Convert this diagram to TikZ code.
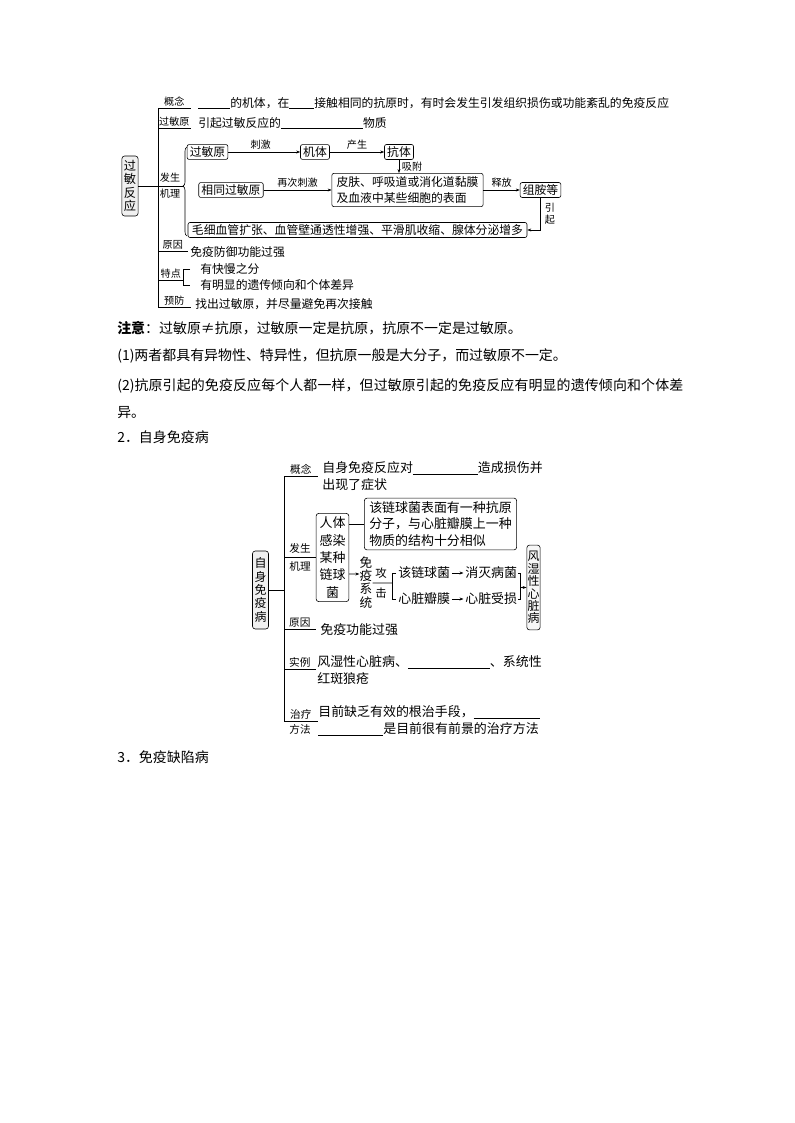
\documentclass[tikz,border=0pt]{standalone}
\usepackage{fontspec}
\setmainfont{Noto Sans CJK SC}
\usetikzlibrary{arrows.meta,calc,decorations.pathreplacing}
\XeTeXlinebreaklocale "zh"
\XeTeXlinebreakskip=0pt plus 1pt
\newlength\pxu
\setlength\pxu{0.26458mm}
\newcommand{\blank}[1]{\rule[-0.15em]{#1\pxu}{0.4pt}}

\begin{document}
\begin{tikzpicture}[x=1\pxu, y=-1\pxu, line width=0.45pt,
  txt/.style={inner sep=0pt, anchor=west, font=\fontsize{8.9}{10}\selectfont},
  txtb/.style={inner sep=0pt, anchor=west, font=\fontsize{9.75}{11}\selectfont},
  note/.style={inner sep=0pt, anchor=west, font=\fontsize{10.5}{12}\selectfont},
  lbl/.style={inner sep=0pt, font=\fontsize{7.6}{9}\selectfont},
  lblb/.style={inner sep=0pt, font=\fontsize{8}{9}\selectfont},
  brn/.style={lbl, anchor=south west, inner ysep=1pt},
  brnb/.style={lblb, anchor=south west, inner ysep=1pt},
  box/.style={draw, rounded corners=1.5pt, inner xsep=2pt, inner ysep=1.5pt, font=\fontsize{8.9}{10}\selectfont},
  boxb/.style={draw, rounded corners=2pt, inner xsep=2.6pt, inner ysep=2.5pt, font=\fontsize{9.75}{13.1}\selectfont},
  head/.style={draw, fill=gray!12, rounded corners=2pt, align=center, inner xsep=1.5pt, inner ysep=3pt},
  arr/.style={-{Stealth[length=3pt,width=2.2pt]}}]
\path[use as bounding box, fill=white] (0,0) rectangle (794,1123);

% 过敏反应
\node[head, font=\fontsize{9.2}{10.2}\selectfont] (gmfy) at (130,186) {过\\敏\\反\\应};
\coordinate (sa) at (158,108);
\coordinate (sb) at (158,307);
\draw (sa) -- (sb);
\node[brn, minimum width=32\pxu] (gnl) at (sa) {概念};
\draw (gnl.south west) -- (gnl.south east);
\node[txt] at (198,103) {\blank{32}的机体，在\blank{25}接触相同的抗原时，有时会发生引发组织损伤或功能紊乱的免疫反应};
\node[brn, minimum width=32\pxu] (gmyl) at (158,128) {过敏原};
\draw (gmyl.south west) -- (gmyl.south east);
\node[txt] at (198,123) {引起过敏反应的\blank{82}物质};

\coordinate (bt) at (184,186);
\draw (gmfy.east) -- (bt);
\node[lbl] at (170,178) {发生};
\node[lbl] at (170,194) {机理};
\draw[decorate, decoration={brace, amplitude=4\pxu, aspect=0.56}] (187,236) -- (187,147);

\node[box] (gmy) at (207.5,152) {过敏原};
\node[box] (jt) at (315,152) {机体};
\node[box] (kt) at (399,152) {抗体};
\node[box] (stgmy) at (231,190) {相同过敏原};
\node[box, align=left, inner xsep=3.5pt, inner ysep=2.4pt, font=\fontsize{8.9}{12}\selectfont] (pf) at (407.5,190) {皮肤、呼吸道或消化道黏膜\\及血液中某些细胞的表面};
\node[box] (zad) at (540.5,190) {组胺等};
\node[box, inner xsep=3pt] (mxxg) at (357.5,230) {毛细血管扩张、血管壁通透性增强、平滑肌收缩、腺体分泌增多};
\draw[arr] (gmy) -- node[lbl, above=2pt, pos=0.45] {刺激} (jt);
\draw[arr] (jt) -- node[lbl, above=2pt] {产生} (kt);
\draw[arr] (kt) -- node[lbl, right=2pt] {吸附} (kt |- pf.north);
\draw[arr] (stgmy) -- node[lbl, above=2pt] {再次刺激} (pf);
\draw[arr] (pf) -- node[lbl, above=2pt] {释放} (zad);
\draw[arr] (zad) |- node[lbl, pos=0.25, right=3pt, align=center] {引\\起} (mxxg);

\node[brn, minimum width=29\pxu] (yyl) at (158,251) {原因};
\draw (yyl.south west) -- (yyl.south east);
\node[txt] at (190,252) {免疫防御功能过强};
\node[brn, minimum width=25\pxu] (tdl) at (158,280) {特点};
\draw (tdl.south west) -- (tdl.south east);
\node[txt] (yk) at (200,269) {有快慢之分};
\node[txt] (ym) at (200,285) {有明显的遗传倾向和个体差异};
\draw ($(yk.west)+(-10,0)$) -- ($(yk.west)+(-17,0)$) -- ($(ym.west)+(-17,0)$) -- ($(ym.west)+(-10,0)$);
\node[brn, minimum width=32\pxu] (yfl) at (sb) {预防};
\draw (yfl.south west) -- (yfl.south east);
\node[txt] at (195,304) {找出过敏原，并尽量避免再次接触};

% 注意
\node[note] at (117,328) {\textbf{注意}：过敏原≠抗原，过敏原一定是抗原，抗原不一定是过敏原。};
\node[note] at (117,356) {(1)两者都具有异物性、特异性，但抗原一般是大分子，而过敏原不一定。};
\node[note, anchor=north west, text width=566\pxu, align=justify, font=\fontsize{10.5}{20.25}\selectfont] at (117,378.5) {\noindent(2)抗原引起的免疫反应每个人都一样，但过敏原引起的免疫反应有明显的遗传倾向和个体差\linebreak 异。};
\node[note] at (117,437) {2．自身免疫病};

% 自身免疫病
\node[head, inner ysep=5pt, font=\fontsize{9}{10.1}\selectfont] (zsmy) at (260.5,590) {自\\身\\免\\疫\\病};
\coordinate (sc) at (284,476);
\coordinate (sd) at (284,721);
\draw (sc) -- (sd);
\draw (zsmy.east) -- (zsmy.east -| sc);
\node[brnb, minimum width=33\pxu] (gnl2) at (sc) {概念};
\draw (gnl2.south west) -- (gnl2.south east);
\node[txtb] at (322,468) {自身免疫反应对\blank{65}造成损伤并};
\node[txtb] at (322,485) {出现了症状};

\node[lblb] at (300,548) {发生};
\node[lblb] at (300,566) {机理};
\node[boxb, align=center] (rt) at (332.5,557.5) {人体\\感染\\某种\\链球\\菌};
\draw (rt.west -| sc) -- (rt.west);
\node[boxb, align=left, inner xsep=3.7pt, inner ysep=2.2pt, font=\fontsize{9.75}{12.75}\selectfont] (lqj) at (440.5,524) {该链球菌表面有一种抗原\\分子，与心脏瓣膜上一种\\物质的结构十分相似};
\draw (rt.east |- lqj.west) -- (lqj.west);
\node[inner sep=0pt, align=center, font=\fontsize{9.5}{10}\selectfont] (myxt) at (366,582.5) {免\\疫\\系\\统};
\draw[arr] ($(rt.east)+(0,16.5)$) -- ($(myxt.west)+(0,-8.5)$);
\node[lblb, font=\fontsize{8.6}{9}\selectfont] at (381,573) {攻};
\node[lblb, font=\fontsize{8.6}{9}\selectfont] at (381,593) {击};
\node[txtb] (lq1) at (398,573) {该链球菌};
\node[txtb] (xm) at (465,573) {消灭病菌};
\node[txtb] (xb) at (398,599) {心脏瓣膜};
\node[txtb] (xs) at (465,599) {心脏受损};
\draw[arr, shorten <=1.5\pxu, shorten >=1.5\pxu] (lq1) -- (xm);
\draw[arr, shorten <=1.5\pxu, shorten >=1.5\pxu] (xb) -- (xs);
\draw ($(myxt.east)+(0,0.5)$) -- ($(lq1.west)+(-6,10)$);
\draw ($(lq1.west)+(-2,0)$) -- ($(lq1.west)+(-6,0)$) -- ($(xb.west)+(-6,0)$) -- ($(xb.west)+(-2,0)$);
\node[head, fill=gray!6, inner xsep=0.5pt, inner ysep=4.5pt, font=\fontsize{9}{9.4}\selectfont] (fsx) at (533.5,587.5) {风\\湿\\性\\心\\脏\\病};
\draw ($(xm.east)+(1,0)$) -- ($(xm.east)+(3,0)$) -- ($(xs.east)+(3,0)$) -- ($(xs.east)+(1,0)$);
\draw[arr] ($(xm.east)+(3,14.5)$) -- (fsx.west);

\node[brnb, minimum width=31\pxu] (yyl2) at (284,629) {原因};
\draw (yyl2.south west) -- (yyl2.south east);
\node[txtb] at (320,630) {免疫功能过强};
\node[brnb, minimum width=31\pxu] (sll) at (284,669) {实例};
\draw (sll.south west) -- (sll.south east);
\node[txtb] at (317,662) {风湿性心脏病、\blank{82}、系统性};
\node[txtb] at (317,679) {红斑狼疮};
\node[brnb, minimum width=33\pxu] (zll) at (sd) {治疗};
\draw (zll.south west) -- (zll.south east);
\node[lblb] at (300,729) {方法};
\node[txtb] at (318,712) {目前缺乏有效的根治手段，\blank{66}};
\node[txtb] at (318,729) {\blank{65}是目前很有前景的治疗方法};

\node[note] at (117,757) {3．免疫缺陷病};
\end{tikzpicture}
\end{document}
